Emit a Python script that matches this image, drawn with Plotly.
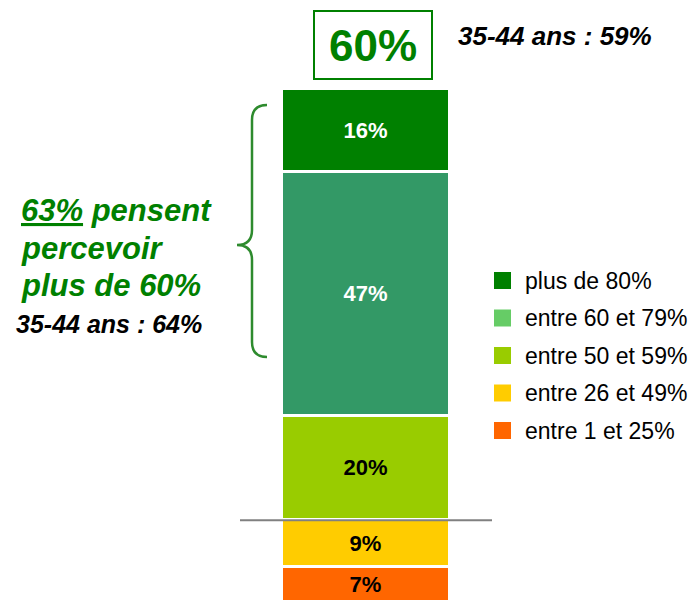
import plotly.graph_objects as go

# page body has an 8px margin, so the figure is drawn 8px in and kept 8px smaller
OFF = 8
W, H = 698 - OFF, 600 - OFF
FONT = "Liberation Sans, Arial, sans-serif"
GREEN = "#008000"

# data: top segment first
categories = ["plus de 80%", "entre 60 et 79%", "entre 50 et 59%", "entre 26 et 49%", "entre 1 et 25%"]
shares = [16, 47, 20, 9, 7]
bar_colors = ["#008000", "#339966", "#99CC00", "#FFCC00", "#FF6600"]
legend_colors = ["#008000", "#66CC66", "#99CC00", "#FFCC00", "#FF6600"]
label_colors = ["white", "white", "black", "black", "black"]

overall_share = 60
age_overall_share = 59
above_60_share = 63
age_above_60_share = 64


def px(x):
    return (x - OFF) / W


def py(y):
    return 1 - (y - OFF) / H


fig = go.Figure()
# stack from the bottom up
for cat, val, col, lc in reversed(list(zip(categories, shares, bar_colors, label_colors))):
    fig.add_trace(go.Bar(
        x=[0], y=[val], width=1, name=cat,
        marker=dict(color=col, line=dict(color="white", width=3)),
        text=[f"<b>{val}%</b>"], textposition="inside", insidetextanchor="middle",
        textfont=dict(family=FONT, size=22, color=lc),
        showlegend=False, hoverinfo="skip",
    ))

shapes = []
annotations = []

# box with overall share on top
shapes.append(dict(type="rect", xref="paper", yref="paper",
                   x0=px(314), x1=px(432), y0=py(79), y1=py(11),
                   line=dict(color=GREEN, width=2)))
annotations.append(dict(xref="paper", yref="paper", x=px(373), y=py(45),
                        text=f"<b>{overall_share}%</b>", showarrow=False,
                        xanchor="center", yanchor="middle",
                        font=dict(family=FONT, size=44, color=GREEN)))
annotations.append(dict(xref="paper", yref="paper", x=px(456), y=py(36),
                        text=f"<b><i>35-44 ans : {age_overall_share}%</i></b>", showarrow=False,
                        xanchor="left", yanchor="middle",
                        font=dict(family=FONT, size=26, color="black")))

# separator line between >=50% and <50%
shapes.append(dict(type="line", xref="paper", yref="y",
                   x0=px(240), x1=px(492), y0=sum(shares[3:]), y1=sum(shares[3:]),
                   line=dict(color="#808080", width=2)))

# curly brace
pts = [(267, 105), (252, 105), (252, 120), (252, 230), (252, 245), (237, 245),
       (252, 245), (252, 260), (252, 342), (252, 357), (267, 357)]
p = [(px(a), py(b)) for a, b in pts]
path = (f"M {p[0][0]},{p[0][1]} Q {p[1][0]},{p[1][1]} {p[2][0]},{p[2][1]} "
        f"L {p[3][0]},{p[3][1]} Q {p[4][0]},{p[4][1]} {p[5][0]},{p[5][1]} "
        f"Q {p[6][0]},{p[6][1]} {p[7][0]},{p[7][1]} L {p[8][0]},{p[8][1]} "
        f"Q {p[9][0]},{p[9][1]} {p[10][0]},{p[10][1]}")
shapes.append(dict(type="path", xref="paper", yref="paper", path=path,
                   line=dict(color="#2E8B2E", width=2.5)))

left_lines = [
    f"<b><i><span style='text-decoration:underline'>{above_60_share}%</span> pensent</i></b>",
    "<b><i>percevoir</i></b>",
    "<b><i>plus de 60%</i></b>",
]
for txt, yc in zip(left_lines, [210, 248, 285]):
    annotations.append(dict(xref="paper", yref="paper", x=px(19), y=py(yc),
                            text=txt, showarrow=False, xanchor="left", yanchor="middle",
                            font=dict(family=FONT, size=31, color=GREEN)))
annotations.append(dict(xref="paper", yref="paper", x=px(14), y=py(324),
                        text=f"<b><i>35-44 ans : {age_above_60_share}%</i></b>", showarrow=False,
                        xanchor="left", yanchor="middle",
                        font=dict(family=FONT, size=25, color="black")))

# hand-made legend
for i, (cat, col) in enumerate(zip(categories, legend_colors)):
    yc = 280.5 + i * 37.5
    shapes.append(dict(type="rect", xref="paper", yref="paper",
                       x0=px(494), x1=px(511), y0=py(yc + 8.5), y1=py(yc - 8.5),
                       fillcolor=col, line=dict(width=0)))
    annotations.append(dict(xref="paper", yref="paper", x=px(523), y=py(yc),
                            text=cat, showarrow=False, xanchor="left", yanchor="middle",
                            font=dict(family=FONT, size=23, color="black")))

# bar geometry: 168 px per bar width, 5.201 px per percent, zero at window y 603.4
fig.update_layout(
    width=W, height=H,
    margin=dict(l=0, r=0, t=0, b=0),
    barmode="stack", bargap=0,
    paper_bgcolor="white", plot_bgcolor="white",
    shapes=shapes, annotations=annotations,
    showlegend=False,
)
fig.update_xaxes(range=[-(365.7 - OFF) / 168, (698 - 365.7) / 168], visible=False, fixedrange=True)
fig.update_yaxes(range=[3.4 / 5.201, (603.4 - OFF) / 5.201], visible=False, fixedrange=True)

fig.write_html("out.html", config={"displayModeBar": False})
